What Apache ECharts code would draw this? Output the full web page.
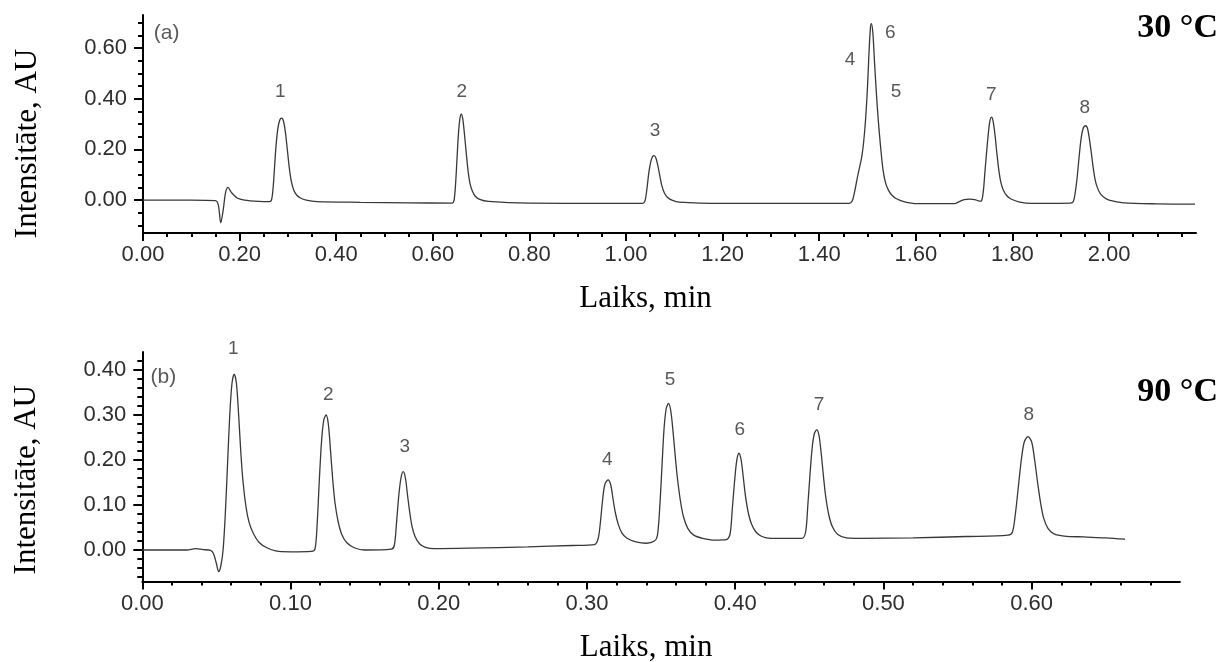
<!DOCTYPE html>
<html>
<head>
<meta charset="utf-8">
<script src="https://cdn.jsdelivr.net/npm/echarts@6/dist/echarts.min.js"></script>
<style>html,body{margin:0;padding:0;background:#fff;}#c{width:1223px;height:662px;}</style>
</head>
<body>
<div id="c"></div>
<script>
// ---- data (time in min, intensity in AU) ----
const chromA = [
  [0.000,0.000],[0.100,0.000],[0.150,-0.002],[0.156,-0.020],[0.161,-0.090],[0.166,-0.040],
  [0.171,0.030],[0.176,0.050],[0.183,0.030],[0.195,0.008],[0.210,0.000],[0.240,-0.005],
  [0.262,-0.006],[0.266,0.000],[0.269,0.040],[0.272,0.120],[0.275,0.205],[0.279,0.280],
  [0.283,0.315],[0.287,0.323],[0.291,0.310],[0.295,0.265],[0.299,0.195],[0.303,0.125],
  [0.307,0.075],[0.312,0.040],[0.318,0.020],[0.326,0.008],[0.338,0.000],[0.360,-0.006],
  [0.450,-0.009],[0.550,-0.011],[0.640,-0.012],[0.644,0.000],[0.647,0.060],[0.650,0.160],
  [0.653,0.260],[0.656,0.320],[0.659,0.339],[0.662,0.320],[0.665,0.270],[0.669,0.190],
  [0.673,0.115],[0.677,0.065],[0.682,0.035],[0.688,0.015],[0.697,0.003],[0.715,-0.005],
  [0.800,-0.012],[0.950,-0.013],[1.034,-0.013],[1.039,-0.005],[1.043,0.040],[1.047,0.105],
  [1.051,0.150],[1.055,0.172],[1.058,0.175],[1.062,0.165],[1.066,0.135],[1.070,0.095],
  [1.074,0.058],[1.079,0.030],[1.086,0.010],[1.095,0.000],[1.110,-0.008],[1.200,-0.013],
  [1.400,-0.013],[1.462,-0.013],[1.468,-0.005],[1.473,0.030],[1.478,0.080],[1.483,0.125],
  [1.488,0.170],[1.492,0.230],[1.496,0.320],[1.500,0.450],[1.503,0.580],[1.506,0.680],
  [1.508,0.696],[1.511,0.660],[1.514,0.560],[1.518,0.430],[1.522,0.320],[1.527,0.210],
  [1.532,0.120],[1.537,0.070],[1.543,0.040],[1.550,0.020],[1.560,0.005],[1.575,-0.006],
  [1.602,-0.014],[1.680,-0.014],[1.690,-0.006],[1.700,0.002],[1.712,0.004],[1.722,0.002],
  [1.732,-0.004],[1.736,-0.003],[1.740,0.040],[1.743,0.110],[1.747,0.200],[1.751,0.280],
  [1.754,0.318],[1.757,0.327],[1.760,0.310],[1.764,0.255],[1.768,0.180],[1.772,0.115],
  [1.776,0.070],[1.781,0.040],[1.788,0.018],[1.797,0.004],[1.815,-0.008],[1.840,-0.013],
  [1.920,-0.012],[1.926,-0.006],[1.930,0.030],[1.934,0.090],[1.938,0.170],[1.942,0.240],
  [1.946,0.280],[1.951,0.293],[1.955,0.285],[1.959,0.245],[1.963,0.190],[1.967,0.130],
  [1.971,0.082],[1.976,0.048],[1.982,0.025],[1.990,0.010],[2.000,0.000],[2.030,-0.011],
  [2.100,-0.015],[2.178,-0.016]
];
const chromB = [
  [0.000,0.000],[0.030,0.000],[0.036,0.003],[0.041,0.001],[0.046,-0.001],[0.048,-0.008],
  [0.050,-0.030],[0.0515,-0.048],[0.053,-0.035],[0.0545,0.000],[0.056,0.080],[0.0575,0.190],
  [0.059,0.300],[0.0605,0.370],[0.062,0.391],[0.0635,0.370],[0.065,0.300],[0.0665,0.215],
  [0.068,0.150],[0.070,0.095],[0.072,0.062],[0.075,0.036],[0.079,0.016],[0.084,0.005],
  [0.090,-0.002],[0.100,-0.004],[0.114,-0.003],[0.1165,0.002],[0.118,0.060],[0.1195,0.160],
  [0.121,0.245],[0.1225,0.290],[0.124,0.300],[0.1255,0.280],[0.127,0.220],[0.1285,0.155],
  [0.130,0.105],[0.132,0.065],[0.1345,0.035],[0.138,0.016],[0.143,0.005],[0.150,0.000],
  [0.168,0.002],[0.170,0.010],[0.1715,0.060],[0.173,0.120],[0.1745,0.160],[0.176,0.174],
  [0.1775,0.160],[0.179,0.120],[0.1805,0.082],[0.182,0.052],[0.184,0.030],[0.187,0.014],
  [0.191,0.006],[0.197,0.003],[0.220,0.004],[0.260,0.007],[0.290,0.010],[0.305,0.012],
  [0.3075,0.025],[0.309,0.060],[0.3105,0.110],[0.312,0.145],[0.3142,0.156],[0.316,0.145],
  [0.3175,0.115],[0.319,0.085],[0.321,0.058],[0.3235,0.038],[0.327,0.026],[0.333,0.018],
  [0.340,0.015],[0.3455,0.020],[0.3475,0.032],[0.349,0.090],[0.3505,0.180],[0.352,0.270],
  [0.3535,0.315],[0.355,0.326],[0.3565,0.310],[0.358,0.265],[0.3595,0.210],[0.361,0.160],
  [0.363,0.110],[0.365,0.075],[0.368,0.048],[0.372,0.033],[0.378,0.026],[0.386,0.022],
  [0.394,0.023],[0.3965,0.035],[0.398,0.090],[0.3995,0.150],[0.401,0.198],[0.4025,0.215],
  [0.404,0.200],[0.4055,0.160],[0.407,0.118],[0.409,0.080],[0.411,0.058],[0.414,0.040],
  [0.418,0.030],[0.424,0.026],[0.445,0.026],[0.4475,0.040],[0.449,0.100],[0.4505,0.170],
  [0.452,0.230],[0.4535,0.260],[0.455,0.267],[0.4565,0.255],[0.458,0.215],[0.4595,0.165],
  [0.461,0.120],[0.463,0.080],[0.4655,0.052],[0.469,0.035],[0.475,0.027],[0.485,0.026],
  [0.520,0.027],[0.556,0.030],[0.584,0.033],[0.587,0.040],[0.589,0.080],[0.591,0.140],
  [0.593,0.200],[0.595,0.240],[0.5975,0.252],[0.600,0.240],[0.602,0.200],[0.604,0.150],
  [0.606,0.105],[0.608,0.072],[0.611,0.048],[0.615,0.036],[0.622,0.031],[0.635,0.029],
  [0.650,0.027],[0.663,0.024]
];
// peak number annotations [time, intensity, text]
const peaksA = [
  [0.284,0.427,'1'],[0.660,0.427,'2'],[1.060,0.273,'3'],[1.464,0.554,'4'],
  [1.547,0.661,'6'],[1.559,0.427,'5'],[1.756,0.415,'7'],[1.950,0.364,'8']
];
const peaksB = [
  [0.0614,0.448,'1'],[0.1255,0.344,'2'],[0.177,0.230,'3'],[0.3137,0.201,'4'],
  [0.356,0.378,'5'],[0.403,0.267,'6'],[0.4565,0.322,'7'],[0.598,0.300,'8']
];
const panelTagA = [[0.049,0.660,'(a)']];
const panelTagB = [[0.0142,0.385,'(b)']];
// tick values
const xTicksA = [0.00,0.20,0.40,0.60,0.80,1.00,1.20,1.40,1.60,1.80,2.00];
const yTicksA = [0.00,0.20,0.40,0.60];
const xTicksB = [0.00,0.10,0.20,0.30,0.40,0.50,0.60];
const yTicksB = [0.00,0.10,0.20,0.30,0.40];
const panelTitles = ['30 °C','90 °C'];
const xName = 'Laiks, min';
const yName = 'Intensitāte, AU';

const sans = '"Liberation Sans", Arial, sans-serif';
const serif = '"Liberation Serif", "Times New Roman", serif';
const lineColor = '#383838';
const textColor = '#2e2e2e';

function xAxisCfg(gridIndex, min, max, splitNumber, minorSplit, ticks, pad, gap) {
  return {
    type: 'value', gridIndex, min, max, splitNumber,
    axisLine: { show: true, onZero: false, lineStyle: { color: '#000', width: 2 } },
    axisTick: { show: true, inside: false, length: 8, customValues: ticks, lineStyle: { color: '#000', width: 2 } },
    minorTick: { show: true, splitNumber: minorSplit, length: 4, lineStyle: { color: '#000', width: 2 } },
    axisLabel: { customValues: ticks, formatter: v => v.toFixed(2), margin: 11, fontSize: 22, fontFamily: sans, color: textColor },
    splitLine: { show: false },
    name: xName, nameLocation: 'middle', nameGap: gap,
    nameTextStyle: { fontFamily: serif, fontSize: 31, color: '#000', padding: pad }
  };
}
function yAxisCfg(gridIndex, min, max, splitNumber, minorSplit, ticks, pad) {
  return {
    type: 'value', gridIndex, min, max, splitNumber,
    axisLine: { show: true, onZero: false, lineStyle: { color: '#000', width: 2 } },
    axisTick: { show: true, inside: false, length: 9, customValues: ticks, lineStyle: { color: '#000', width: 2 } },
    minorTick: { show: true, splitNumber: minorSplit, length: 5, lineStyle: { color: '#000', width: 2 } },
    axisLabel: { customValues: ticks, formatter: v => v.toFixed(2), margin: 16, fontSize: 22, fontFamily: sans, color: textColor },
    splitLine: { show: false },
    name: yName, nameLocation: 'middle', nameGap: 100,
    nameTextStyle: { fontFamily: serif, fontSize: 31, color: '#000', padding: pad }
  };
}
function textSeries(data, xi, yi, size) {
  return {
    type: 'scatter', xAxisIndex: xi, yAxisIndex: yi, data, clip: false, silent: true,
    symbolSize: 1, itemStyle: { color: 'rgba(0,0,0,0)' },
    label: { show: true, position: 'inside', formatter: p => p.data[2], fontSize: size, fontFamily: sans, color: textColor }
  };
}
function lineSeries(data, xi, yi) {
  return { type: 'line', xAxisIndex: xi, yAxisIndex: yi, data, showSymbol: false, smooth: 0.3,
    lineStyle: { color: lineColor, width: 1.3 }, silent: true };
}

const chart = echarts.init(document.getElementById('c'));
chart.setOption({
  animation: false,
  backgroundColor: '#fff',
  title: [
    { text: panelTitles[0], right: 5, top: 11, padding: 0, textStyle: { fontFamily: serif, fontWeight: 'bold', fontSize: 34, color: '#000' } },
    { text: panelTitles[1], right: 5, top: 375, padding: 0, textStyle: { fontFamily: serif, fontWeight: 'bold', fontSize: 34, color: '#000' } }
  ],
  grid: [
    { left: 143, top: 15, width: 1053, height: 218, outerBoundsMode: 'none' },
    { left: 142.3, top: 352, width: 1037.6, height: 229.5, outerBoundsMode: 'none' }
  ],
  xAxis: [
    xAxisCfg(0, 0, 2.18, 10, 4, xTicksA, [0, 48, 0, 0], 50),
    xAxisCfg(1, 0, 0.70, 7, 5, xTicksB, [0, 30, 0, 0], 51)
  ],
  yAxis: [
    yAxisCfg(0, -0.13, 0.73, 4, 4, yTicksA, [0, 39, 0, 0]),
    yAxisCfg(1, -0.07, 0.44, 5, 5, yTicksB, [0, 26, 0, 0])
  ],
  series: [
    lineSeries(chromA, 0, 0),
    lineSeries(chromB, 1, 1),
    textSeries(peaksA, 0, 0, 19),
    textSeries(peaksB, 1, 1, 19),
    textSeries(panelTagA, 0, 0, 21),
    textSeries(panelTagB, 1, 1, 21)
  ]
});
</script>
</body>
</html>
